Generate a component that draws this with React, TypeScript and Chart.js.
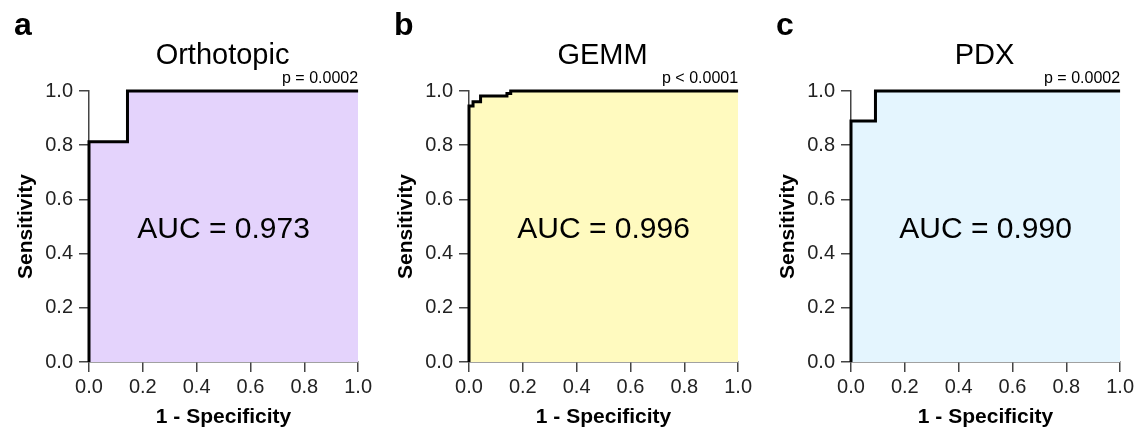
import React, { useEffect, useRef } from "react";
import { Chart, registerables } from "chart.js";

Chart.register(...registerables);

const FONT = "'Liberation Sans', Arial, Helvetica, sans-serif";

// ---- data ----
const panelLetters = ["a", "b", "c"];
const panelTitles = ["Orthotopic", "GEMM", "PDX"];
const pValueLabels = ["p = 0.0002", "p < 0.0001", "p = 0.0002"];
const aucLabels = ["AUC = 0.973", "AUC = 0.996", "AUC = 0.990"];
const fillColors = ["#E4D3FC", "#FFFABF", "#E4F5FE"];

const orthotopicFpr = [0, 0, 0.143, 0.143, 1];
const orthotopicTpr = [0, 0.8125, 0.8125, 1, 1];

const gemmFpr = [0, 0, 0.015, 0.015, 0.043, 0.043, 0.141, 0.141, 0.155, 0.155, 1];
const gemmTpr = [0, 0.945, 0.945, 0.96, 0.96, 0.982, 0.982, 0.991, 0.991, 1, 1];

const pdxFpr = [0, 0, 0.0909, 0.0909, 1];
const pdxTpr = [0, 0.889, 0.889, 1, 1];

const axisTickValues = [0, 0.2, 0.4, 0.6, 0.8, 1.0];
const xAxisTitle = "1 - Specificity";
const yAxisTitle = "Sensitivity";

const rocFpr = [orthotopicFpr, gemmFpr, pdxFpr];
const rocTpr = [orthotopicTpr, gemmTpr, pdxTpr];

// ---- layout ----
const CANVAS_W = 375;
const CANVAS_H = 432;
const canvasLefts = [0, 380, 762];
const AXIS_COLOR = "#444";

const textPlugin = {
  id: "panelText",
  afterDraw(chart: any, _args: any, opts: any) {
    const { ctx, chartArea } = chart;
    const cx = (chartArea.left + chartArea.right) / 2;
    ctx.save();
    ctx.fillStyle = "#000";
    ctx.textBaseline = "alphabetic";

    ctx.font = `bold 32px ${FONT}`;
    ctx.textAlign = "left";
    ctx.fillText(opts.letter, chartArea.left - 75, 35);

    ctx.font = `29px ${FONT}`;
    ctx.textAlign = "center";
    ctx.fillText(opts.title, cx - 1, 64);

    ctx.font = `16px ${FONT}`;
    ctx.textAlign = "right";
    ctx.fillText(opts.p, chartArea.right, 82.5);

    ctx.font = `30px ${FONT}`;
    ctx.textAlign = "center";
    ctx.fillText(opts.auc, cx, 238);
    ctx.restore();
  },
};

function RocPanel({ index }: { index: number }) {
  const ref = useRef<HTMLCanvasElement | null>(null);

  useEffect(() => {
    if (!ref.current) return;
    const fpr = rocFpr[index];
    const tpr = rocTpr[index];
    const points = fpr.map((x, i) => ({ x, y: tpr[i] }));

    const tickCfg = {
      font: { family: FONT, size: 20 },
      color: "#222",
      autoSkip: false,
      maxRotation: 0,
      minRotation: 0,
      stepSize: 0.2,
      callback: (v: any) => Number(v).toFixed(1),
    };
    const gridCfg = {
      display: true,
      drawOnChartArea: false,
      drawTicks: true,
      tickLength: 10,
      color: AXIS_COLOR,
      lineWidth: 1.5,
    };

    const chart = new Chart(ref.current, {
      type: "line",
      data: {
        datasets: [
          {
            data: points,
            borderColor: "#000",
            borderWidth: 3,
            backgroundColor: fillColors[index],
            fill: "origin",
            pointRadius: 0,
            tension: 0,
            borderJoinStyle: "miter",
            clip: false,
          } as any,
        ],
      },
      options: {
        responsive: false,
        animation: false,
        devicePixelRatio: 1,
        layout: { padding: { top: 91, right: CANVAS_W - 89 - 270, left: 0, bottom: 0 } },
        plugins: {
          legend: { display: false },
          tooltip: { enabled: false },
          panelText: {
            letter: panelLetters[index],
            title: panelTitles[index],
            p: pValueLabels[index],
            auc: aucLabels[index],
          },
        } as any,
        scales: {
          x: {
            type: "linear",
            min: 0,
            max: 1,
            afterBuildTicks: (s: any) => {
              s.ticks = axisTickValues.map((v) => ({ value: v }));
            },
            afterFit: (s: any) => {
              s.height = 70;
            },
            ticks: { ...tickCfg, padding: 3 },
            grid: gridCfg,
            border: { display: true, color: AXIS_COLOR, width: 1.5 },
            title: {
              display: true,
              text: xAxisTitle,
              font: { family: FONT, size: 21, weight: "bold" },
              color: "#000",
              padding: { top: 0, bottom: 2 },
            },
          },
          y: {
            type: "linear",
            min: 0,
            max: 1,
            afterBuildTicks: (s: any) => {
              s.ticks = axisTickValues.map((v) => ({ value: v }));
            },
            afterFit: (s: any) => {
              s.width = 89;
            },
            ticks: { ...tickCfg, padding: 6 },
            grid: gridCfg,
            border: { display: true, color: AXIS_COLOR, width: 1.5 },
            title: {
              display: true,
              text: yAxisTitle,
              font: { family: FONT, size: 21, weight: "bold" },
              color: "#000",
              padding: { top: 14, bottom: 0 },
            },
          },
        },
      } as any,
      plugins: [textPlugin],
    });
    return () => chart.destroy();
  }, [index]);

  return (
    <canvas
      ref={ref}
      width={CANVAS_W}
      height={CANVAS_H}
      style={{
        position: "absolute",
        left: canvasLefts[index],
        top: 0,
        width: CANVAS_W,
        height: CANVAS_H,
      }}
    />
  );
}

export default function App() {
  return (
    <div
      style={{
        position: "fixed",
        left: 0,
        top: 0,
        width: 1137,
        height: 432,
        background: "#fff",
        overflow: "hidden",
      }}
    >
      {[0, 1, 2].map((i) => (
        <RocPanel key={i} index={i} />
      ))}
    </div>
  );
}
